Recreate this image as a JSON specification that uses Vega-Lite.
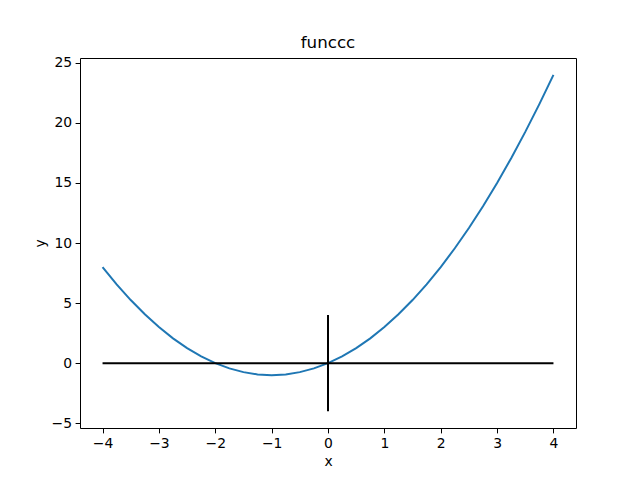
{
  "$schema": "https://vega.github.io/schema/vega-lite/v6.json",
  "width": 496,
  "height": 370,
  "autosize": {"type": "none"},
  "padding": {"left": 80, "top": 58, "right": 64, "bottom": 52},
  "background": "white",
  "title": {"text": "funccc", "fontSize": 16.7, "font": "DejaVu Sans", "fontWeight": "normal", "color": "black", "offset": 4},
  "config": {
    "view": {"stroke": "black", "strokeWidth": 1},
    "axis": {
      "domain": false,
      "grid": false,
      "tickColor": "black",
      "tickSize": 4.9,
      "tickWidth": 1,
      "labelFont": "DejaVu Sans",
      "labelFontSize": 13.9,
      "labelColor": "black",
      "labelPadding": 3.5,
      "titleFont": "DejaVu Sans",
      "titleFontSize": 13.9,
      "titleFontWeight": "normal",
      "titleColor": "black",
      "titlePadding": 4
    }
  },
  "datasets": {
    "curve": [
      {"x": -4, "y": 8}, {"x": -3.75, "y": 6.5625}, {"x": -3.5, "y": 5.25}, {"x": -3.25, "y": 4.0625},
      {"x": -3, "y": 3}, {"x": -2.75, "y": 2.0625}, {"x": -2.5, "y": 1.25}, {"x": -2.25, "y": 0.5625},
      {"x": -2, "y": 0}, {"x": -1.75, "y": -0.4375}, {"x": -1.5, "y": -0.75}, {"x": -1.25, "y": -0.9375},
      {"x": -1, "y": -1}, {"x": -0.75, "y": -0.9375}, {"x": -0.5, "y": -0.75}, {"x": -0.25, "y": -0.4375},
      {"x": 0, "y": 0}, {"x": 0.25, "y": 0.5625}, {"x": 0.5, "y": 1.25}, {"x": 0.75, "y": 2.0625},
      {"x": 1, "y": 3}, {"x": 1.25, "y": 4.0625}, {"x": 1.5, "y": 5.25}, {"x": 1.75, "y": 6.5625},
      {"x": 2, "y": 8}, {"x": 2.25, "y": 9.5625}, {"x": 2.5, "y": 11.25}, {"x": 2.75, "y": 13.0625},
      {"x": 3, "y": 15}, {"x": 3.25, "y": 17.0625}, {"x": 3.5, "y": 19.25}, {"x": 3.75, "y": 21.5625},
      {"x": 4, "y": 24}
    ],
    "hline": [{"x": -4, "y": 0}, {"x": 4, "y": 0}],
    "vline": [{"x": 0, "y": -4}, {"x": 0, "y": 4}]
  },
  "encoding": {
    "x": {"field": "x", "type": "quantitative", "title": "x",
          "scale": {"domain": [-4.4, 4.4], "nice": false, "zero": false},
          "axis": {"values": [-4, -3, -2, -1, 0, 1, 2, 3, 4]}},
    "y": {"field": "y", "type": "quantitative", "title": "y",
          "scale": {"domain": [-5.4, 25.4], "nice": false, "zero": false},
          "axis": {"values": [-5, 0, 5, 10, 15, 20, 25]}}
  },
  "layer": [
    {"data": {"name": "curve"}, "mark": {"type": "line", "color": "#1f77b4", "strokeWidth": 2}},
    {"data": {"name": "hline"}, "mark": {"type": "line", "color": "black", "strokeWidth": 2}},
    {"data": {"name": "vline"}, "mark": {"type": "line", "color": "black", "strokeWidth": 2}, "encoding": {"order": {"field": "y"}}}
  ]
}
